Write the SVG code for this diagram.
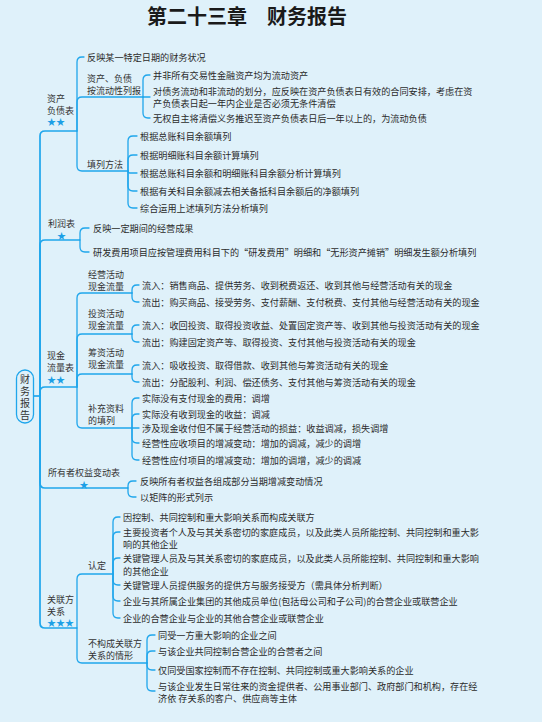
<svg xmlns="http://www.w3.org/2000/svg" width="542" height="722" viewBox="0 0 542 722">
<style>
.t{font-family:"Noto Sans CJK SC","Noto Sans",sans-serif;font-size:9.15px;fill:#2b2b2b;dominant-baseline:central}
.l{font-family:"Noto Sans CJK SC","Noto Sans",sans-serif;font-size:9px;fill:#333;dominant-baseline:central}
.r{font-family:"Noto Sans CJK SC","Noto Sans",sans-serif;font-size:10px;fill:#333;writing-mode:vertical-rl;letter-spacing:2px}
.s{font-family:"Noto Sans CJK SC","DejaVu Sans",sans-serif;font-size:9px;fill:#1c9fe6;dominant-baseline:central}
.c{fill:none;stroke:#1fa6ec;stroke-width:1.3;stroke-linecap:round}
.trunk{fill:none;stroke:#1fa6ec;stroke-width:1.7}
.title{font-family:"Noto Sans CJK SC",sans-serif;font-size:20px;font-weight:bold;fill:#1a1a1a;dominant-baseline:central}
</style>
<rect x="0" y="0" width="542" height="722" fill="#dff1fa"/>
<text class="title" x="147" y="15">第二十三章　财务报告</text>

<g id="connectors">
<path class="trunk" d="M34 396 H40"/>
<path class="trunk" d="M40 396 V136 Q40 131 45 131 H77"/>
<path class="trunk" d="M40 396 V245 Q40 240 45 240 H80"/>
<path class="trunk" d="M40 396 V392 Q40 387 45 387 H77"/>
<path class="trunk" d="M40 396 V483 Q40 488 45 488 H128"/>
<path class="trunk" d="M40 396 V623 Q40 628 45 628 H77"/>

<path class="c" d="M77 131 V62 Q77 57 82 57 H84"/>
<path class="c" d="M77 131 V102 Q77 97 82 97 H143"/>
<path class="c" d="M77 131 V166 Q77 171 82 171 H128"/>

<path class="c" d="M143 97 V80 Q143 75 148 75 H150"/>
<path class="c" d="M143 97 H150"/>
<path class="c" d="M143 97 V113 Q143 118 148 118 H150"/>

<path class="c" d="M128 171 V141 Q128 136 133 136 H137"/>
<path class="c" d="M128 171 V160 Q128 155 133 155 H137"/>
<path class="c" d="M128 171 Q128 173 130 173 H137"/>
<path class="c" d="M128 171 V186 Q128 191 133 191 H137"/>
<path class="c" d="M128 171 V203 Q128 208 133 208 H137"/>

<path class="c" d="M80 240 V233 Q80 228 85 228 H89"/>
<path class="c" d="M80 240 V247 Q80 252 85 252 H89"/>

<path class="c" d="M77 387 V298 Q77 293 82 293 H132"/>
<path class="c" d="M77 387 V339 Q77 334 82 334 H132"/>
<path class="c" d="M77 387 V379 Q77 374 82 374 H132"/>
<path class="c" d="M77 387 V423 Q77 428 82 428 H132"/>

<path class="c" d="M132 293 V290 Q132 285 137 285 H139"/>
<path class="c" d="M132 293 V297 Q132 302 137 302 H139"/>
<path class="c" d="M132 334 V330 Q132 325 137 325 H139"/>
<path class="c" d="M132 334 V337 Q132 342 137 342 H139"/>
<path class="c" d="M132 374 V370 Q132 365 137 365 H139"/>
<path class="c" d="M132 374 V377 Q132 382 137 382 H139"/>

<path class="c" d="M132 428 V403 Q132 398 137 398 H139"/>
<path class="c" d="M132 428 V419 Q132 414 137 414 H139"/>
<path class="c" d="M132 428 H139"/>
<path class="c" d="M132 428 V438 Q132 443 137 443 H139"/>
<path class="c" d="M132 428 V455 Q132 460 137 460 H139"/>

<path class="c" d="M128 488 V486 Q128 481 133 481 H136"/>
<path class="c" d="M128 488 V492 Q128 497 133 497 H136"/>

<path class="c" d="M77 628 V579 Q77 574 82 574 H113"/>
<path class="c" d="M77 628 V658 Q77 663 82 663 H147"/>

<path class="c" d="M113 574 V522 Q113 517 118 517 H120"/>
<path class="c" d="M113 574 V537 Q113 532 118 532 H120"/>
<path class="c" d="M113 574 V563 Q113 558 118 558 H120"/>
<path class="c" d="M113 574 V580 Q113 585 118 585 H120"/>
<path class="c" d="M113 574 V596 Q113 601 118 601 H120"/>
<path class="c" d="M113 574 V613 Q113 618 118 618 H120"/>

<path class="c" d="M147 663 V640 Q147 635 152 635 H155"/>
<path class="c" d="M147 663 V656 Q147 651 152 651 H155"/>
<path class="c" d="M147 663 V665 Q147 670 152 670 H155"/>
<path class="c" d="M147 663 V686 Q147 691 152 691 H155"/>
</g>

<g id="root">
<rect x="16.5" y="370" width="17" height="53" rx="8.5" fill="#dff1fa" stroke="#1fa6ec" stroke-width="1.3"/>
<text class="r" x="25" y="374.5">财务报告</text>
</g>

<g id="n-zcfzb">
<text class="l"><tspan x="47" y="97.5">资产</tspan><tspan x="47" y="109.5">负债表</tspan></text>
<text class="s" x="47" y="121.5">★★</text>
</g>
<g id="n-zcfzb-1"><text class="t" x="87" y="57">反映某一特定日期的财务状况</text></g>
<g id="n-zcfzb-2">
<text class="l"><tspan x="87" y="77.5">资产、负债</tspan><tspan x="87" y="89.5">按流动性列报</tspan></text>
</g>
<g id="n-zcfzb-2a"><text class="t" x="153" y="75">并非所有交易性金融资产均为流动资产</text></g>
<g id="n-zcfzb-2b">
<text class="t"><tspan x="153" y="90.5">对债务流动和非流动的划分，应反映在资产负债表日有效的合同安排，考虑在资</tspan><tspan x="153" y="103">产负债表日起一年内企业是否必须无条件清偿</tspan></text>
</g>
<g id="n-zcfzb-2c"><text class="t" x="153" y="118">无权自主将清偿义务推迟至资产负债表日后一年以上的，为流动负债</text></g>
<g id="n-zcfzb-3"><text class="l" x="87" y="164">填列方法</text></g>
<g id="n-zcfzb-3a"><text class="t" x="140" y="136">根据总账科目余额填列</text></g>
<g id="n-zcfzb-3b"><text class="t" x="140" y="155">根据明细账科目余额计算填列</text></g>
<g id="n-zcfzb-3c"><text class="t" x="140" y="173">根据总账科目余额和明细账科目余额分析计算填列</text></g>
<g id="n-zcfzb-3d"><text class="t" x="140" y="191">根据有关科目余额减去相关备抵科目余额后的净额填列</text></g>
<g id="n-zcfzb-3e"><text class="t" x="140" y="208">综合运用上述填列方法分析填列</text></g>

<g id="n-lrb">
<text class="l" x="48" y="223">利润表</text>
<text class="s" x="61.5" y="235.5" text-anchor="middle">★</text>
</g>
<g id="n-lrb-1"><text class="t" x="93" y="228">反映一定期间的经营成果</text></g>
<g id="n-lrb-2"><text class="t" x="93" y="252">研发费用项目应按管理费用科目下的“研发费用”明细和“无形资产摊销”明细发生额分析填列</text></g>

<g id="n-xjllb">
<text class="l"><tspan x="47" y="355">现金</tspan><tspan x="47" y="367">流量表</tspan></text>
<text class="s" x="47" y="379.5">★★</text>
</g>
<g id="n-jy">
<text class="l"><tspan x="88" y="273.5">经营活动</tspan><tspan x="88" y="285.5">现金流量</tspan></text>
</g>
<g id="n-jy-1"><text class="t" x="142" y="285">流入：销售商品、提供劳务、收到税费返还、收到其他与经营活动有关的现金</text></g>
<g id="n-jy-2"><text class="t" x="142" y="302">流出：购买商品、接受劳务、支付薪酬、支付税费、支付其他与经营活动有关的现金</text></g>
<g id="n-tz">
<text class="l"><tspan x="88" y="312.5">投资活动</tspan><tspan x="88" y="324.5">现金流量</tspan></text>
</g>
<g id="n-tz-1"><text class="t" x="142" y="325">流入：收回投资、取得投资收益、处置固定资产等、收到其他与投资活动有关的现金</text></g>
<g id="n-tz-2"><text class="t" x="142" y="342">流出：购建固定资产等、取得投资、支付其他与投资活动有关的现金</text></g>
<g id="n-cz">
<text class="l"><tspan x="88" y="352">筹资活动</tspan><tspan x="88" y="364">现金流量</tspan></text>
</g>
<g id="n-cz-1"><text class="t" x="142" y="365">流入：吸收投资、取得借款、收到其他与筹资活动有关的现金</text></g>
<g id="n-cz-2"><text class="t" x="142" y="382">流出：分配股利、利润、偿还债务、支付其他与筹资活动有关的现金</text></g>
<g id="n-bc">
<text class="l"><tspan x="88" y="407.5">补充资料</tspan><tspan x="88" y="419.5">的填列</tspan></text>
</g>
<g id="n-bc-1"><text class="t" x="142" y="398">实际没有支付现金的费用：调增</text></g>
<g id="n-bc-2"><text class="t" x="142" y="414">实际没有收到现金的收益：调减</text></g>
<g id="n-bc-3"><text class="t" x="142" y="428">涉及现金收付但不属于经营活动的损益：收益调减，损失调增</text></g>
<g id="n-bc-4"><text class="t" x="142" y="443">经营性应收项目的增减变动：增加的调减，减少的调增</text></g>
<g id="n-bc-5"><text class="t" x="142" y="460">经营性应付项目的增减变动：增加的调增，减少的调减</text></g>

<g id="n-syzqy">
<text class="l" x="48" y="472">所有者权益变动表</text>
<text class="s" x="84" y="484" text-anchor="middle">★</text>
</g>
<g id="n-syzqy-1"><text class="t" x="140" y="481">反映所有者权益各组成部分当期增减变动情况</text></g>
<g id="n-syzqy-2"><text class="t" x="140" y="497">以矩阵的形式列示</text></g>

<g id="n-glf">
<text class="l"><tspan x="47" y="598.5">关联方</tspan><tspan x="47" y="610.5">关系</tspan></text>
<text class="s" x="47" y="622.5">★★★</text>
</g>
<g id="n-rd"><text class="l" x="88" y="565">认定</text></g>
<g id="n-rd-1"><text class="t" x="123" y="517">因控制、共同控制和重大影响关系而构成关联方</text></g>
<g id="n-rd-2">
<text class="t"><tspan x="123" y="531.5">主要投资者个人及与其关系密切的家庭成员，以及此类人员所能控制、共同控制和重大影</tspan><tspan x="123" y="544">响的其他企业</tspan></text>
</g>
<g id="n-rd-3">
<text class="t"><tspan x="123" y="558">关键管理人员及与其关系密切的家庭成员，以及此类人员所能控制、共同控制和重大影响</tspan><tspan x="123" y="571">的其他企业</tspan></text>
</g>
<g id="n-rd-4"><text class="t" x="123" y="585">关键管理人员提供服务的提供方与服务接受方（需具体分析判断）</text></g>
<g id="n-rd-5"><text class="t" x="123" y="601">企业与其所属企业集团的其他成员单位(包括母公司和子公司)的合营企业或联营企业</text></g>
<g id="n-rd-6"><text class="t" x="123" y="618">企业的合营企业与企业的其他合营企业或联营企业</text></g>
<g id="n-bgc">
<text class="l"><tspan x="88" y="643">不构成关联方</tspan><tspan x="88" y="655">关系的情形</tspan></text>
</g>
<g id="n-bgc-1"><text class="t" x="158" y="635">同受一方重大影响的企业之间</text></g>
<g id="n-bgc-2"><text class="t" x="158" y="651">与该企业共同控制合营企业的合营者之间</text></g>
<g id="n-bgc-3"><text class="t" x="158" y="670">仅同受国家控制而不存在控制、共同控制或重大影响关系的企业</text></g>
<g id="n-bgc-4">
<text class="t"><tspan x="158" y="685.5">与该企业发生日常往来的资金提供者、公用事业部门、政府部门和机构，存在经</tspan><tspan x="158" y="698">济依 存关系的客户、供应商等主体</tspan></text>
</g>
</svg>
